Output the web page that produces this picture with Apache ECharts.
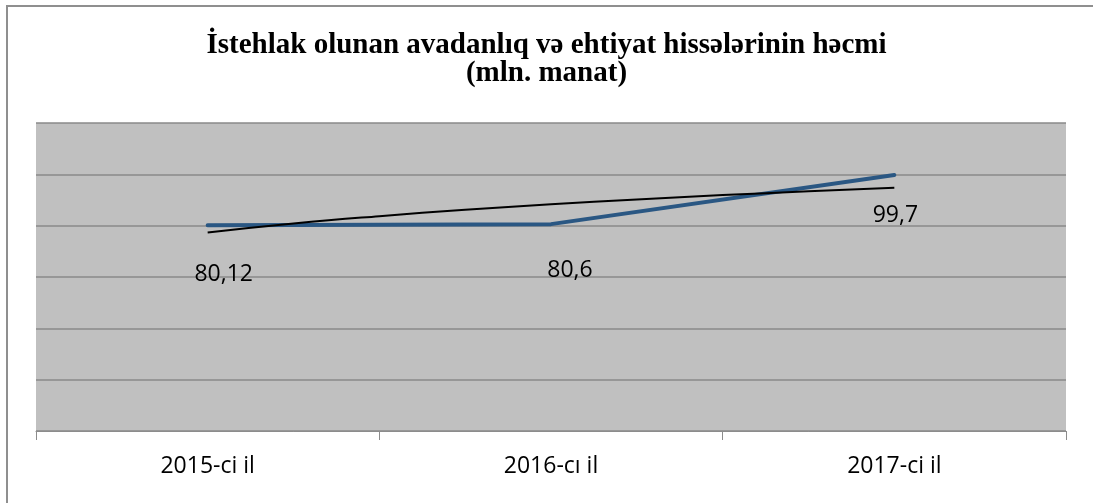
<!DOCTYPE html>
<html>
<head>
<meta charset="utf-8">
<script src="https://cdn.jsdelivr.net/npm/echarts@6/dist/echarts.min.js"></script>
<style>
  html, body { margin: 0; padding: 0; background: #fff; }
  #chart { width: 1093px; height: 503px; }
</style>
</head>
<body>
<div id="chart"></div>
<script>
var years = ['2015-ci il', '2016-cı il', '2017-ci il'];
var volume = [80.12, 80.6, 99.7];
var volumeText = ['80,12', '80,6', '99,7'];
// trend line (x in category bands, 0..3)
var trendX = [0.5, 0.75, 1.0, 1.25, 1.5, 1.75, 2.0, 2.25, 2.5];
var trendY = [77.3, 80.8, 83.7, 86.2, 88.3, 90.2, 91.9, 93.4, 94.8];
var labelShift = [[16, 49], [19, 46], [1, 40]];

var myChart = echarts.init(document.getElementById('chart'));

var lineData = volume.map(function (v, i) {
  return {
    value: v,
    label: {
      show: true,
      position: 'inside',
      offset: labelShift[i],
      formatter: volumeText[i]
    }
  };
});

var trendData = trendX.map(function (x, i) {
  return [x, trendY[i]];
});

var option = {
  animation: false,
  title: {
    text: 'İstehlak olunan avadanlıq və ehtiyat hissələrinin həcmi\n(mln. manat)',
    left: 'center',
    top: 27,
    textStyle: {
      fontFamily: 'Liberation Serif',
      fontWeight: 'bold',
      fontSize: 29,
      lineHeight: 28,
      color: '#000'
    }
  },
  graphic: [{
    type: 'rect',
    shape: { x: 7, y: 6, width: 1200, height: 600 },
    style: { fill: 'none', stroke: '#8f8f8f', lineWidth: 2 },
    silent: true
  }],
  grid: {
    left: 36,
    right: 27,
    top: 123,
    bottom: 72,
    show: true,
    backgroundColor: '#c0c0c0',
    borderWidth: 0
  },
  xAxis: [{
    type: 'category',
    data: years,
    boundaryGap: true,
    axisLine: { lineStyle: { color: '#8c8c8c', width: 1 } },
    axisTick: { show: true, length: 9, lineStyle: { color: '#8c8c8c' } },
    axisLabel: {
      fontFamily: 'Open Sans',
      fontSize: 23,
      color: '#000',
      margin: 24
    }
  }, {
    type: 'value',
    min: 0,
    max: 3,
    show: false
  }],
  yAxis: {
    type: 'value',
    min: 0,
    max: 120,
    interval: 20,
    axisLabel: { show: false },
    axisLine: { show: false },
    axisTick: { show: false },
    splitLine: { lineStyle: { color: '#8a8a8a', width: 1.5 } }
  },
  series: [{
    name: 'trend',
    type: 'line',
    xAxisIndex: 1,
    data: trendData,
    smooth: true,
    showSymbol: false,
    lineStyle: { color: '#000', width: 2 },
    z: 3
  }, {
    name: 'volume',
    type: 'line',
    data: lineData,
    symbol: 'circle',
    symbolSize: 0,
    showSymbol: true,
    lineStyle: { color: '#2a5783', width: 4, cap: 'round' },
    itemStyle: { color: '#2a5783' },
    label: {
      fontFamily: 'Open Sans',
      fontSize: 23,
      color: '#000'
    },
    z: 2
  }]
};

myChart.setOption(option);
</script>
</body>
</html>
